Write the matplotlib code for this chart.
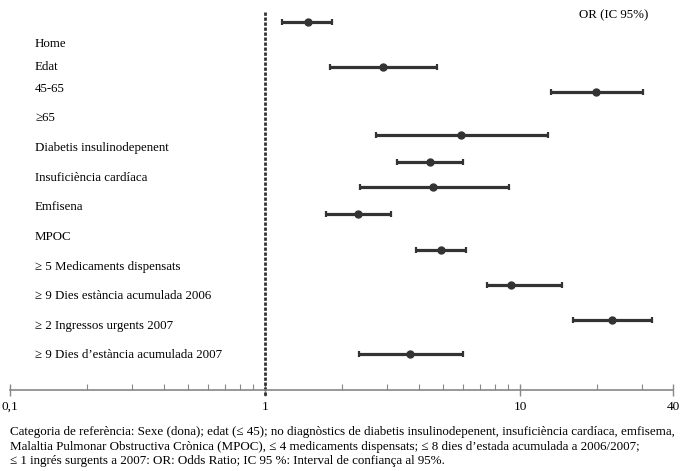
import matplotlib
matplotlib.use("Agg")
import matplotlib.pyplot as plt
from matplotlib.ticker import FixedLocator, NullFormatter

plt.rcParams['font.family'] = ['Liberation Serif', 'DejaVu Serif']

# odds ratios with 95% CI
odds_ratio = [1.47, 2.91, 19.9, 5.87, 4.43, 4.55, 2.31, 4.90, 9.22, 23.0, 3.70]
ci_low = [1.17, 1.80, 13.2, 2.72, 3.29, 2.36, 1.73, 3.90, 7.42, 16.1, 2.34]
ci_high = [1.83, 4.72, 30.3, 12.9, 5.97, 9.03, 3.12, 6.14, 14.6, 32.9, 5.97]

labels = ["Home", "Edat", "45-65", "\u226565", "Diabetis insulinodepenent",
          "Insufici\u00e8ncia card\u00edaca", "Emfisena", "MPOC",
          "\u2265 5 Medicaments dispensats",
          "\u2265 9 Dies est\u00e0ncia acumulada 2006",
          "\u2265 2 Ingressos urgents 2007",
          "\u2265 9 Dies d\u2019est\u00e0ncia acumulada 2007"]

tick_values = [0.1, 1, 10, 40]
tick_labels = ["0,1", "1", "10", "40"]

footnote = ("Categoria de refer\u00e8ncia: Sexe (dona); edat (\u2264 45); no diagn\u00f2stics de diabetis insulinodepenent, insufici\u00e8ncia card\u00edaca, emfisema,\n"
            "Malaltia Pulmonar Obstructiva Cr\u00f2nica (MPOC), \u2264 4 medicaments dispensats; \u2264 8 dies d\u2019estada acumulada a 2006/2007;\n"
            "\u2264 1 ingr\u00e9s surgents a 2007: OR: Odds Ratio; IC 95 %: Interval de confian\u00e7a al 95%.")

# layout: rows are placed in figure-pixel units (y down)
row_y = [22, 67, 92, 135, 162, 187, 214, 250, 285, 320, 354]
label_y = [44, 67, 89, 118, 148, 178, 207, 237, 267, 296, 326, 355]

W, H = 680, 471
fig = plt.figure(figsize=(W / 100, H / 100), dpi=100)
ax_left, ax_right, ax_bottom = 10, 673.5, 390
ax = fig.add_axes([ax_left / W, (H - ax_bottom) / H, (ax_right - ax_left) / W, ax_bottom / H])
ax.set_xscale("log")
ax.set_xlim(0.1, 40)
ax.set_ylim(ax_bottom, 0)

col = "#333333"
for y, o, lo, hi in zip(row_y, odds_ratio, ci_low, ci_high):
    ax.errorbar(o, y, xerr=[[o - lo], [hi - o]], fmt="o", color=col, ms=5,
                elinewidth=2.3, capsize=2.5, capthick=1.6)

ax.plot([1, 1], [12, 396], color=col, ls=(0, (1.2, 0.6)), lw=2.0, clip_on=False)

for s in ["top", "left", "right"]:
    ax.spines[s].set_visible(False)
ax.spines["bottom"].set_color("#888888")
ax.spines["bottom"].set_linewidth(1.2)
ax.set_yticks([])

minor = [m * d for d in (0.1, 1, 10) for m in range(2, 10) if m * d < 40]
ax.xaxis.set_major_locator(FixedLocator(tick_values))
ax.xaxis.set_minor_locator(FixedLocator(minor))
ax.xaxis.set_minor_formatter(NullFormatter())
ax.set_xticklabels(tick_labels)
ax.tick_params(axis="x", which="major", direction="inout", length=8, width=1.0,
               color="#888888", labelsize=9.5, pad=4)
ax.tick_params(axis="x", which="minor", direction="in", length=4, width=0.8,
               color="#888888")

for txt, y in zip(labels, label_y):
    fig.text(35 / W, 1 - y / H, txt, fontsize=9.3, va="center", ha="left")

fig.text(648 / W, 1 - 15 / H, "OR (IC 95%)", fontsize=9.3, ha="right", va="center")
fig.text(10 / W, 1 - 426 / H, footnote, fontsize=9.4, ha="left", va="top", linespacing=1.28)

fig.savefig("out.png", dpi=100, facecolor="white")
